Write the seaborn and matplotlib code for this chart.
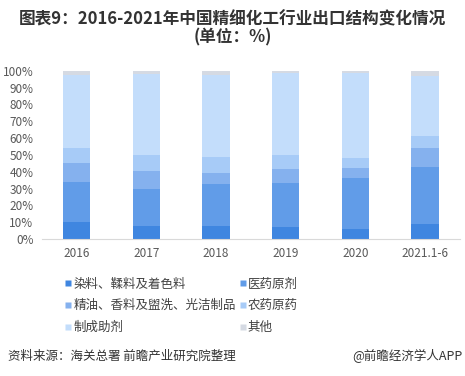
import matplotlib
matplotlib.use("Agg")
import matplotlib.pyplot as plt
import seaborn as sns
import pandas as pd
import numpy as np
from matplotlib.lines import Line2D

categories = ["2016", "2017", "2018", "2019", "2020", "2021.1-6"]
series_names = ["染料、鞣料及着色料", "医药原剂", "精油、香料及盥洗、光洁制品",
                "农药原药", "制成助剂", "其他"]
dye = [10.3, 7.9, 7.9, 7.3, 6.1, 9.1]
pharma = [23.5, 21.9, 24.9, 26.1, 30.2, 33.8]
oil = [11.3, 10.9, 6.5, 8.3, 5.9, 11.3]
pesticide = [8.9, 9.3, 9.5, 8.3, 5.9, 7.1]
auxiliary = [43.3, 47.8, 48.6, 48.8, 50.4, 35.6]
other = [2.7, 2.2, 2.6, 1.2, 1.5, 3.1]
colors = ["#3F86E0", "#619CE8", "#85B1EE", "#A7CBF7", "#C3DDFB", "#D5DAE3"]

sns.set_theme(style="white")
plt.rcParams['font.family'] = ['Noto Sans CJK SC', 'DejaVu Sans']

values = [dye, pharma, oil, pesticide, auxiliary, other]
cum = np.cumsum(np.array(values), axis=0)

fig = plt.figure(figsize=(4.65, 3.76), dpi=100)
ax = fig.add_axes([0.090, 0.364, 0.899, 0.448])

for i in range(len(values) - 1, -1, -1):
    df = pd.DataFrame({"cat": categories, "val": cum[i]})
    sns.barplot(data=df, x="cat", y="val", color=colors[i], width=0.39,
                saturation=1, ax=ax, edgecolor="none", linewidth=0)

ax.set_ylim(0, 100)
ax.set_xlim(-0.5, 5.5)
ax.set_yticks(np.arange(0, 101, 10))
ax.set_yticklabels([f"{v}%" for v in range(0, 101, 10)])
ax.set_xlabel("")
ax.set_ylabel("")
ax.tick_params(axis="both", length=0, labelsize=8.5, colors="#595959")
ax.tick_params(axis="y", pad=6)
ax.tick_params(axis="x", pad=6)
for s in ["top", "right", "left"]:
    ax.spines[s].set_visible(False)
ax.spines["bottom"].set_color("#D9D9D9")
ax.spines["bottom"].set_linewidth(0.8)

fig.text(0.5, 0.925, "图表9：2016-2021年中国精细化工行业出口结构变化情况\n(单位：%)",
         ha="center", va="center", fontsize=12, fontweight="bold", color="#333333",
         linespacing=1.0)

order = [0, 2, 4, 1, 3, 5]
handles = [Line2D([0], [0], marker="s", linestyle="none", markersize=5,
                  markerfacecolor=colors[i], markeredgecolor="none") for i in order]
labels = [series_names[i] for i in order]
fig.legend(handles, labels, ncol=2, loc="upper left", bbox_to_anchor=(0.140, 0.262),
           frameon=False, fontsize=9, handletextpad=0.15, handlelength=0.5,
           columnspacing=0.3, labelspacing=0.7, labelcolor="#404040",
           borderaxespad=0, borderpad=0)

fig.text(0.017, 0.053, "资料来源：海关总署 前瞻产业研究院整理", ha="left", va="center",
         fontsize=9, color="#333333")
fig.text(0.995, 0.053, "@前瞻经济学人APP", ha="right", va="center",
         fontsize=9, color="#333333")

fig.savefig("out.png", dpi=100)
